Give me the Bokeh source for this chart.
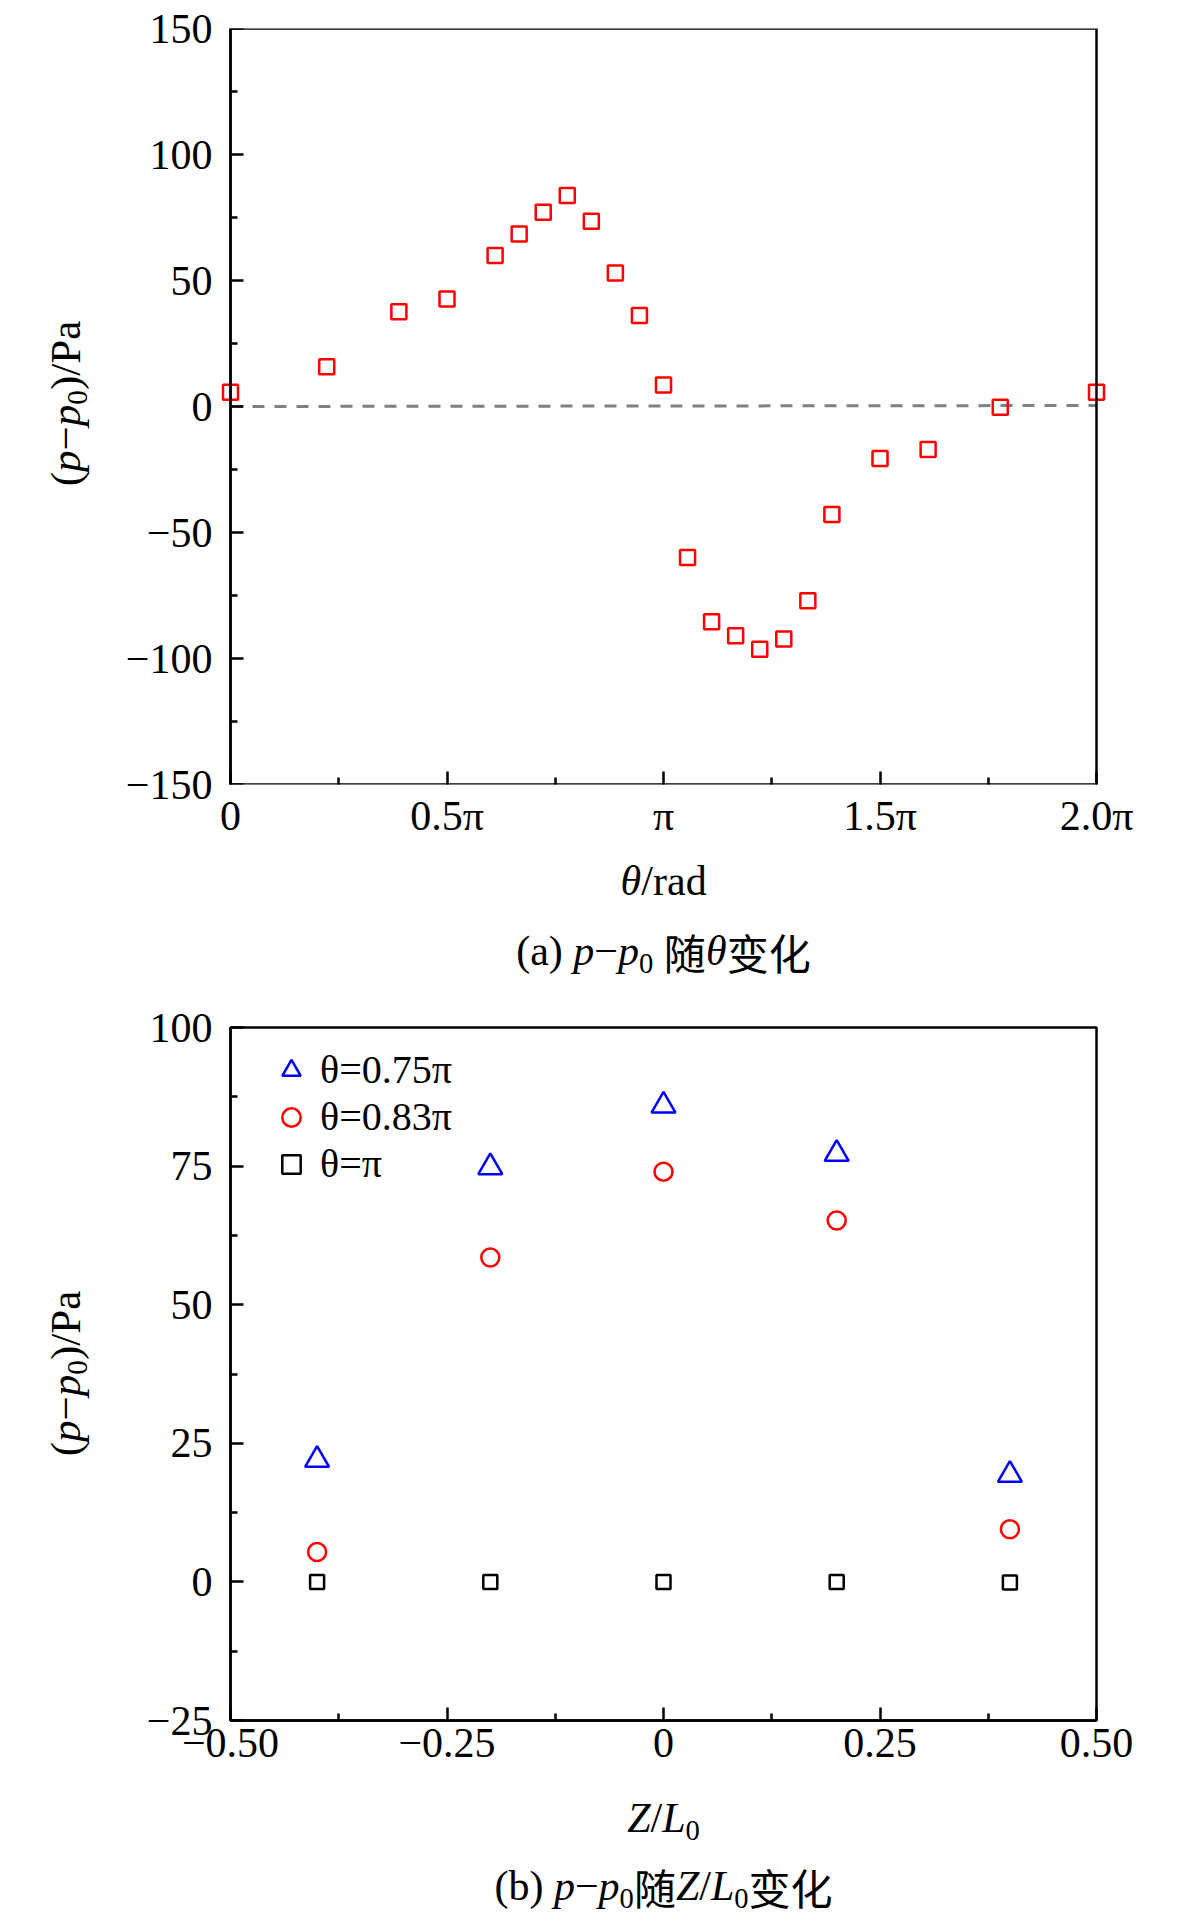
import math
from bokeh.plotting import figure
from bokeh.models import FixedTicker, Label, Legend, LegendItem, BoxAnnotation, LinearAxis
from bokeh.layouts import column, row
from bokeh.embed import file_html
from bokeh.resources import INLINE

# ---------------- data ----------------
# (a) p - p0 versus theta (theta in degrees)
theta_deg = [0, 40, 70, 90, 110, 120, 130, 140, 150, 160, 170, 180,
             190, 200, 210, 220, 230, 240, 250, 270, 290, 320, 360]
dp_theta = [5.7, 15.8, 37.6, 42.7, 59.9, 68.5, 77.1, 83.7, 73.5, 53.0, 36.1, 8.5,
            -59.9, -85.4, -91.0, -96.3, -92.3, -77.1, -42.9, -20.6, -17.1, -0.3, 5.7]
ref_x = [0.0, 2.0]          # reference line ends, in units of pi
ref_y = [0.0, 0.4]

a_xticks = [0.0, 0.5, 1.0, 1.5, 2.0]
a_xlabels = ["0", "0.5π", "π", "1.5π", "2.0π"]
a_xminor = [0.25, 0.75, 1.25, 1.75]
a_yticks = [-150, -100, -50, 0, 50, 100, 150]
a_ylabels = ["−150", "−100", "−50", "0", "50", "100", "150"]
a_yminor = [-125, -75, -25, 25, 75, 125]

# (b) p - p0 versus Z/L0
z_l0 = [-0.4, -0.2, 0.0, 0.2, 0.4]
dp_075pi = [22.0, 74.8, 85.9, 77.2, 19.3]
dp_083pi = [5.4, 58.5, 74.0, 65.2, 9.5]
dp_pi = [0.0, 0.0, 0.0, 0.0, -0.1]
series_names = ["θ=0.75π", "θ=0.83π", "θ=π"]

b_xticks = [-0.5, -0.25, 0.0, 0.25, 0.5]
b_xlabels = ["−0.50", "−0.25", "0", "0.25", "0.50"]
b_xminor = [-0.375, -0.125, 0.125, 0.375]
b_yticks = [-25, 0, 25, 50, 75, 100]
b_ylabels = ["−25", "0", "25", "50", "75", "100"]
b_yminor = [-12.5, 12.5, 37.5, 62.5, 87.5]

# ---------------- helpers ----------------
SERIF = "Liberation Serif"
CJK = "Noto Sans CJK SC"
FS = 42
TOTAL_W = 1160
YLAB_W = 100
BOTTOM = 70

REG = {'(': 0.333, ')': 0.333, 'a': 0.444, 'b': 0.5, ' ': 0.25, '−': 0.564,
       '0': 0.5, '/': 0.278, 'P': 0.556, 'r': 0.333, 'd': 0.5}
ITA = {'p': 0.5, 'θ': 0.5, 'Z': 0.556, 'L': 0.556}
SUB = 0.68


def piece_width(t, kind, size):
    if kind == 'c':
        return len(t) * size
    if kind == 's':
        return sum(REG.get(ch, 0.5) for ch in t) * size * SUB
    table = ITA if kind == 'i' else REG
    return sum(table.get(ch, 0.5) for ch in t) * size


def rich(fig, a, b, pieces, vertical=False, size=FS):
    """Mixed-style text. Horizontal: a = centre x, b = baseline y.
    Vertical (reads upward): a = baseline x, b = centre y. Units are pixels."""
    widths = [piece_width(t, k, size) for t, k in pieces]
    pos = -sum(widths) / 2.0
    for (t, k), w in zip(pieces, widths):
        fs = size * SUB if k == 's' else size
        drop = 0.17 * size if k == 's' else 0.0
        across = 0.3375 * fs - drop
        along = pos + w / 2.0
        if vertical:
            x, y, ang = a - across, b + along, math.pi / 2
        else:
            x, y, ang = a + along, b + across, 0.0
        fig.add_layout(Label(
            x=x, y=y, text=t, angle=ang,
            text_font=CJK if k == 'c' else SERIF,
            text_font_size=f"{fs:.1f}px",
            text_font_style="italic" if k == 'i' else "normal",
            text_align="center", text_baseline="middle", text_color="black"))
        pos += w


def text_canvas(w, h):
    f = figure(width=w, height=h, x_range=(0, w), y_range=(0, h), min_border=0,
               x_axis_type=None, y_axis_type=None, output_backend="svg",
               toolbar_location=None)
    f.outline_line_color = None
    f.background_fill_color = "white"
    f.border_fill_color = "white"
    return f


def side_canvas(w, frame_h, top, bottom):
    """Narrow canvas whose frame lines up with the neighbouring plot frame."""
    f = figure(frame_width=w, frame_height=frame_h, x_range=(0, w), y_range=(0, frame_h),
               min_border_left=0, min_border_right=0,
               min_border_top=top, min_border_bottom=bottom,
               x_axis_type=None, y_axis_type=None, output_backend="svg",
               toolbar_location=None)
    f.outline_line_color = None
    f.background_fill_color = "white"
    f.border_fill_color = "white"
    return f


def style_axis(ax):
    ax.axis_line_width = 2.5
    ax.axis_line_color = "black"
    ax.major_tick_line_width = 2.5
    ax.minor_tick_line_width = 2.5
    ax.major_tick_line_color = "black"
    ax.minor_tick_line_color = "black"
    ax.major_tick_in = 13
    ax.major_tick_out = 0
    ax.minor_tick_in = 7
    ax.minor_tick_out = 0
    ax.major_label_text_font = SERIF
    ax.major_label_text_font_size = f"{FS}px"
    ax.major_label_text_color = "black"


def style(p, xt, xl, xm, yt, yl, ym):
    p.xaxis.ticker = FixedTicker(ticks=xt, minor_ticks=xm)
    p.xaxis.major_label_overrides = dict(zip(xt, xl))
    p.yaxis.ticker = FixedTicker(ticks=yt, minor_ticks=ym)
    p.yaxis.major_label_overrides = dict(zip(yt, yl))
    p.xgrid.visible = False
    p.ygrid.visible = False
    p.outline_line_color = "black"
    p.outline_line_width = 2.5
    p.outline_line_alpha = 1.0
    p.background_fill_color = "white"
    p.border_fill_color = "white"
    for ax in p.axis:
        style_axis(ax)
    p.xaxis.major_label_standoff = 8
    p.yaxis.major_label_standoff = 18


Y_PART = [("(", 'r'), ("p", 'i'), ("−", 'r'), ("p", 'i'), ("0", 's'), (")/Pa", 'r')]

# ---------------- figure (a) ----------------
A_TOP = 28
A_FRAME_W, A_FRAME_H, A_PAD = 866, 756, 12
a_px_per_unit = A_FRAME_W / (a_xticks[-1] - a_xticks[0])
a_xr = (a_xticks[0] - A_PAD / a_px_per_unit, a_xticks[-1] + A_PAD / a_px_per_unit)
a_left = 230 - A_PAD - YLAB_W
a_fw = A_FRAME_W + 2 * A_PAD
pa = figure(frame_width=a_fw, frame_height=A_FRAME_H, x_range=a_xr,
            y_range=(a_yticks[0], a_yticks[-1]),
            output_backend="svg", toolbar_location=None,
            min_border_left=a_left, min_border_right=TOTAL_W - YLAB_W - a_left - a_fw,
            min_border_top=A_TOP, min_border_bottom=BOTTOM)
style(pa, a_xticks, a_xlabels, a_xminor, a_yticks, a_ylabels, a_yminor)
pa.outline_line_color = None
pa.xaxis.axis_line_color = None
# the edge axis carries only the tick labels
ya_lab = pa.yaxis[0]
ya_lab.axis_line_color = None
ya_lab.major_tick_line_color = None
ya_lab.minor_tick_line_color = None
ya_lab.major_label_standoff = 18 - A_PAD
# an axis pinned at theta = 0 carries the ticks
ya_ticks = LinearAxis(ticker=FixedTicker(ticks=a_yticks, minor_ticks=a_yminor),
                      fixed_location=a_xticks[0],
                      major_label_overrides={t: "" for t in a_yticks})
style_axis(ya_ticks)
pa.add_layout(ya_ticks, "left")
pa.add_layout(BoxAnnotation(left=a_xticks[0], right=a_xticks[-1],
                            bottom=a_yticks[0], top=a_yticks[-1],
                            fill_color=None, fill_alpha=0.0,
                            line_color="black", line_width=2.5, line_alpha=1.0))

pa.line(ref_x, ref_y, line_color="#808080", line_width=3, line_dash="12 10")
theta_pi = [d / 180.0 for d in theta_deg]
pa.scatter(theta_pi, dp_theta, marker="square", size=15, line_color="#FF0000",
           fill_color=None, line_width=2.5)

A_H = A_TOP + A_FRAME_H + BOTTOM
ya = side_canvas(YLAB_W, A_FRAME_H, A_TOP, BOTTOM)
rich(ya, 80, A_FRAME_H - (403 - A_TOP), Y_PART, vertical=True, size=43)

CAP_A_H = 1000 - A_H
cap_a = text_canvas(TOTAL_W, CAP_A_H)
rich(cap_a, 663, CAP_A_H - (895 - A_H), [("θ", 'i'), ("/rad", 'r')])
rich(cap_a, 663, CAP_A_H - (965 - A_H), [("(a) ", 'r'), ("p", 'i'), ("−", 'r'), ("p", 'i'),
                                         ("0", 's'), (" ", 'r'), ("随", 'c'), ("θ", 'i'),
                                         ("变化", 'c')])

# ---------------- figure (b) ----------------
B_TOP_BORDER = 27
B_FRAME_W, B_FRAME_H = 866, 693
b_left = 230 - YLAB_W
pb = figure(frame_width=B_FRAME_W, frame_height=B_FRAME_H,
            x_range=(b_xticks[0], b_xticks[-1]), y_range=(b_yticks[0], b_yticks[-1]),
            output_backend="svg", toolbar_location=None,
            min_border_left=b_left, min_border_right=TOTAL_W - YLAB_W - b_left - B_FRAME_W,
            min_border_top=B_TOP_BORDER, min_border_bottom=BOTTOM)
style(pb, b_xticks, b_xlabels, b_xminor, b_yticks, b_ylabels, b_yminor)

r1 = pb.scatter(z_l0, dp_075pi, marker="triangle", size=24, line_color="#0000FF",
                fill_color=None, line_width=2.5)
r2 = pb.scatter(z_l0, dp_083pi, marker="circle", size=18, line_color="#FF0000",
                fill_color=None, line_width=2.5)
r3 = pb.scatter(z_l0, dp_pi, marker="square", size=14, line_color="#000000",
                fill_color=None, line_width=2.5)

legend = Legend(items=[LegendItem(label=series_names[0], renderers=[r1]),
                       LegendItem(label=series_names[1], renderers=[r2]),
                       LegendItem(label=series_names[2], renderers=[r3])],
                location=(38, 533), orientation="vertical",
                glyph_width=46, glyph_height=46, label_height=46, spacing=0,
                label_standoff=6, padding=0, margin=0,
                label_text_font=SERIF, label_text_font_size="40px",
                label_text_color="black",
                border_line_color=None, background_fill_alpha=0.0)
pb.add_layout(legend)

B_TOP = 1000
B_H = B_TOP_BORDER + B_FRAME_H + BOTTOM
yb = side_canvas(YLAB_W, B_FRAME_H, B_TOP_BORDER, BOTTOM)
rich(yb, 80, B_FRAME_H - (1373 - B_TOP - B_TOP_BORDER), Y_PART, vertical=True, size=43)

CAP_B_TOP = B_TOP + B_H
CAP_B_H = 1920 - CAP_B_TOP
cap_b = text_canvas(TOTAL_W, CAP_B_H)
rich(cap_b, 663, CAP_B_H - (1832 - CAP_B_TOP), [("Z", 'i'), ("/", 'r'), ("L", 'i'), ("0", 's')])
rich(cap_b, 663, CAP_B_H - (1900 - CAP_B_TOP),
     [("(b) ", 'r'), ("p", 'i'), ("−", 'r'), ("p", 'i'), ("0", 's'), ("随", 'c'),
      ("Z", 'i'), ("/", 'r'), ("L", 'i'), ("0", 's'), ("变化", 'c')])

layout = column(row(ya, pa, spacing=0), cap_a, row(yb, pb, spacing=0), cap_b, spacing=0)
open("out.html", "w").write(file_html(layout, INLINE))
